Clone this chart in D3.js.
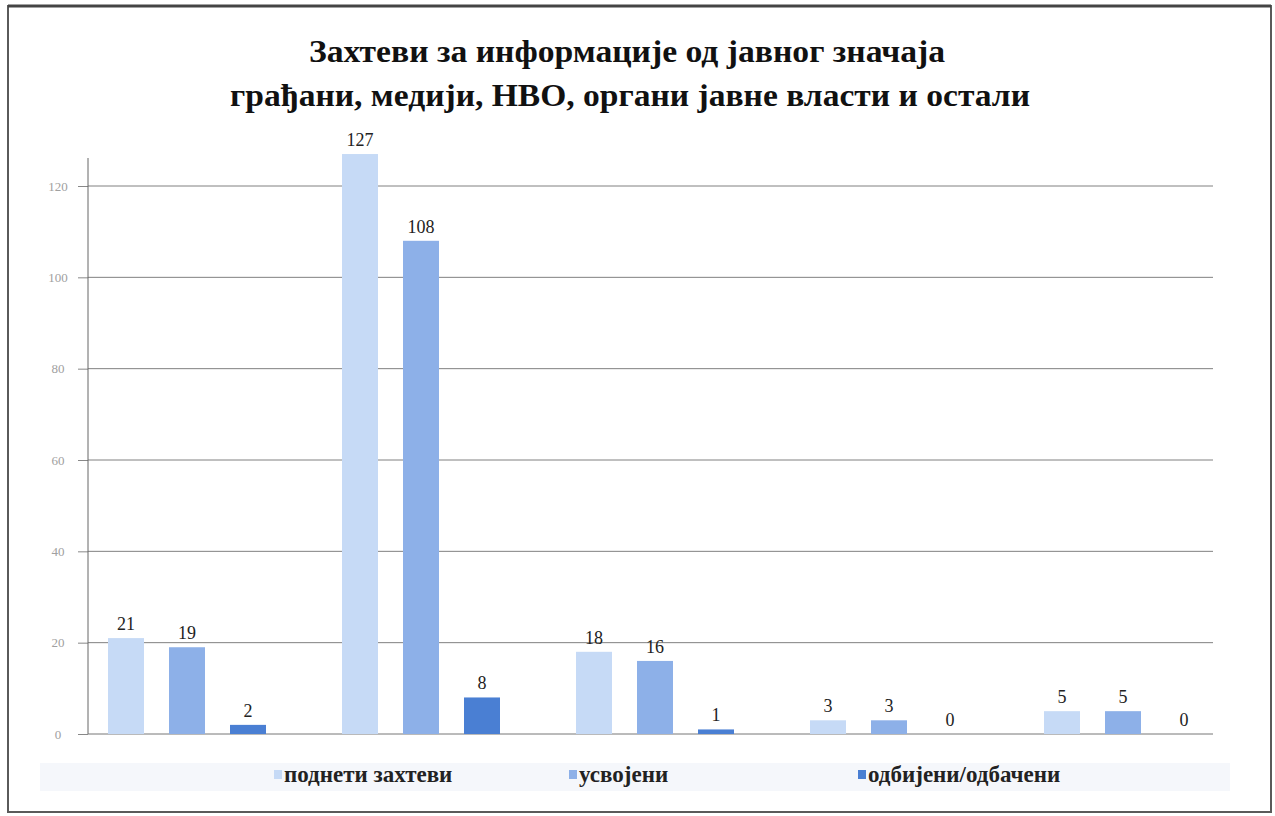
<!DOCTYPE html>
<html>
<head>
<meta charset="utf-8">
<script src="https://cdn.jsdelivr.net/npm/d3@7"></script>
</head>
<body style="margin:0">
<svg id="chart" width="1275" height="816"></svg>
<script>
const titleLines = ["Захтеви за информације од јавног значаја", "грађани, медији, НВО, органи јавне власти и остали"];
const categories = ["грађани", "медији", "НВО", "органи јавне власти", "остали"];
const seriesNames = ["поднети захтеви", "усвојени", "одбијени/одбачени"];
const submitted = [21, 127, 18, 3, 5];
const approved = [19, 108, 16, 3, 5];
const rejected = [2, 8, 1, 0, 0];
const yTicks = [0, 20, 40, 60, 80, 100, 120];
const colors = ["#c6daf6", "#8db0e8", "#4a7fd3"];

const SERIF = "'Liberation Serif', 'Times New Roman', serif";

const seriesValues = [submitted, approved, rejected];
const data = categories.map((c, i) => ({cat: c, values: seriesNames.map((s, j) => ({series: s, value: seriesValues[j][i]}))}));

const svg = d3.select("#chart");

// frame
svg.append("rect").attr("x", 8).attr("y", 6).attr("width", 1263).attr("height", 806)
  .attr("fill", "#fff").attr("stroke", "#5a5a5a").attr("stroke-width", 2);
svg.append("line").attr("x1", 8).attr("x2", 1271).attr("y1", 6).attr("y2", 6)
  .attr("stroke", "#444").attr("stroke-width", 3);

// faint scan band behind legend
svg.append("rect").attr("x", 40).attr("y", 763).attr("width", 1190).attr("height", 28)
  .attr("fill", "#eef2f9").attr("opacity", 0.6);

// title
const titleWidths = [636, 800];
svg.append("g").selectAll("text").data(titleLines).join("text")
  .attr("x", (d, i) => i === 0 ? 627 : 630).attr("y", (d, i) => 62 + i * 44)
  .attr("text-anchor", "middle")
  .attr("font-family", SERIF)
  .attr("font-weight", "bold").attr("font-size", 31)
  .attr("fill", "#111")
  .attr("textLength", (d, i) => titleWidths[i])
  .attr("lengthAdjust", "spacingAndGlyphs")
  .text(d => d);

const y = d3.scaleLinear().domain([0, 120]).range([734, 186]);
const x0 = d3.scaleBand().domain(categories).range([70, 1240]);
const x1 = d3.scaleBand().domain(seriesNames).range([0, x0.bandwidth()]).paddingInner(0.41).paddingOuter(0.623);

// gridlines
svg.append("g").selectAll("line").data(yTicks.filter(t => t > 0)).join("line")
  .attr("x1", 88).attr("x2", 1213)
  .attr("y1", d => y(d)).attr("y2", d => y(d))
  .attr("stroke", "#808080").attr("stroke-width", 1);

// y axis
const yAxis = d3.axisLeft(y).tickValues(yTicks).tickSize(10).tickPadding(6);
const gy = svg.append("g").attr("transform", "translate(88,0)").call(yAxis);
gy.attr("font-family", SERIF).attr("font-size", 13);
gy.select(".domain").remove();
gy.selectAll(".tick line").attr("stroke", "#888");
gy.selectAll(".tick text").attr("fill", "#a0a0a0").attr("x", -30).attr("text-anchor", "middle");
svg.append("line").attr("x1", 88).attr("x2", 88).attr("y1", 158).attr("y2", y(0)).attr("stroke", "#666");
svg.append("line").attr("x1", 88).attr("x2", 1213).attr("y1", y(0)).attr("y2", y(0)).attr("stroke", "#777");

// bars
const groups = svg.append("g").selectAll("g").data(data).join("g")
  .attr("transform", d => `translate(${x0(d.cat)},0)`);
groups.selectAll("rect").data(d => d.values).join("rect")
  .attr("x", d => x1(d.series)).attr("width", x1.bandwidth())
  .attr("y", d => y(d.value)).attr("height", d => y(0) - y(d.value))
  .attr("fill", (d, i) => colors[i]);
groups.selectAll("text").data(d => d.values).join("text")
  .attr("x", d => x1(d.series) + x1.bandwidth() / 2)
  .attr("y", d => y(d.value) - 8)
  .attr("text-anchor", "middle")
  .attr("font-family", SERIF).attr("font-size", 18)
  .attr("fill", "#222")
  .text(d => d.value);

// legend
const legendX = [274, 569, 858];
const lg = svg.append("g").selectAll("g").data(seriesNames).join("g")
  .attr("transform", (d, i) => `translate(${legendX[i]},782)`);
lg.append("rect").attr("x", 0).attr("y", -12).attr("width", 8).attr("height", 9)
  .attr("fill", (d, i) => colors[i]);
lg.append("text").attr("x", 10).attr("y", 0)
  .attr("font-family", SERIF).attr("font-weight", "bold").attr("font-size", 23)
  .attr("fill", "#222")
  .text(d => d);
</script>
</body>
</html>
